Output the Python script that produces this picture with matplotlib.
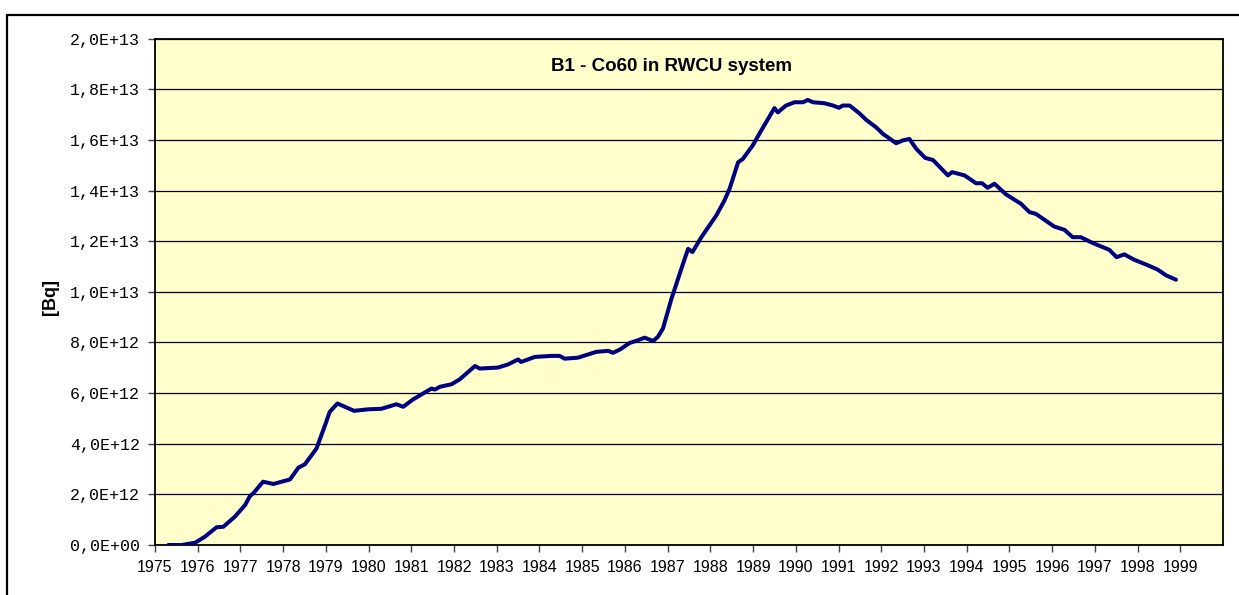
import matplotlib
matplotlib.use("Agg")
import matplotlib.pyplot as plt
from matplotlib.patches import Rectangle
from matplotlib.ticker import FuncFormatter

# Co60 activity: decimal year, activity in 1E+12 Bq
years = [
    1975.31, 1975.62, 1975.94, 1976.17, 1976.44, 1976.60, 1976.87, 1977.11,
    1977.22, 1977.30, 1977.53, 1977.77, 1978.16, 1978.36, 1978.51, 1978.78,
    1978.98, 1979.09, 1979.27, 1979.66, 1979.99, 1980.30, 1980.65, 1980.81,
    1981.04, 1981.47, 1981.55, 1981.67, 1981.94, 1982.13, 1982.49, 1982.60,
    1983.03, 1983.26, 1983.50, 1983.57, 1983.89, 1984.28, 1984.47, 1984.59,
    1984.90, 1985.33, 1985.61, 1985.72, 1985.88, 1986.11, 1986.31, 1986.46,
    1986.66, 1986.77, 1986.89, 1987.09, 1987.36, 1987.48, 1987.58, 1987.79,
    1988.14, 1988.33, 1988.45, 1988.65, 1988.76, 1988.99, 1989.19, 1989.35,
    1989.50, 1989.58, 1989.77, 1989.97, 1990.17, 1990.28, 1990.40, 1990.67,
    1990.87, 1991.01, 1991.10, 1991.26, 1991.49, 1991.65, 1991.88, 1992.04,
    1992.35, 1992.50, 1992.66, 1992.82, 1993.03, 1993.21, 1993.36, 1993.56,
    1993.66, 1993.95, 1994.22, 1994.36, 1994.49, 1994.65, 1994.92, 1995.27,
    1995.47, 1995.62, 1996.05, 1996.29, 1996.48, 1996.67, 1996.95, 1997.34,
    1997.51, 1997.69, 1997.92, 1998.24, 1998.47, 1998.67, 1998.90,
]
activity = [
    0.00, 0.00, 0.09, 0.33, 0.70, 0.72, 1.12, 1.58,
    1.93, 2.04, 2.50, 2.41, 2.59, 3.06, 3.19, 3.81,
    4.73, 5.26, 5.59, 5.30, 5.36, 5.38, 5.56, 5.46,
    5.75, 6.18, 6.14, 6.25, 6.35, 6.54, 7.07, 6.97,
    7.01, 7.13, 7.33, 7.23, 7.43, 7.47, 7.47, 7.36,
    7.40, 7.63, 7.67, 7.59, 7.72, 7.98, 8.09, 8.19,
    8.06, 8.22, 8.55, 9.73, 11.11, 11.70, 11.57, 12.16,
    13.02, 13.61, 14.07, 15.12, 15.25, 15.78, 16.37, 16.83,
    17.26, 17.09, 17.36, 17.49, 17.49, 17.58, 17.49, 17.45,
    17.36, 17.27, 17.36, 17.36, 17.05, 16.79, 16.50, 16.24,
    15.87, 15.98, 16.04, 15.65, 15.29, 15.21, 14.95, 14.60,
    14.73, 14.60, 14.29, 14.29, 14.11, 14.27, 13.85, 13.48,
    13.15, 13.08, 12.58, 12.45, 12.16, 12.16, 11.93, 11.66,
    11.37, 11.48, 11.27, 11.05, 10.88, 10.65, 10.48,
]
year_ticks = list(range(1975, 2000))
bq_ticks = [i * 2e12 for i in range(11)]

fig = plt.figure(figsize=(12.39, 5.95), dpi=100)
fig.patch.set_facecolor("white")
ax = fig.add_axes([155 / 1239, 50 / 595, 1068 / 1239, 506.3 / 595])
ax.set_facecolor("#FFFFCC")

# outer chart frame (runs off the right and bottom edge)
fig.patches.append(Rectangle((7 / 1239, -0.05), 1.2, (595 - 15) / 595 + 0.05,
                             transform=fig.transFigure, fill=False,
                             edgecolor="black", linewidth=1.6, zorder=0))

ax.plot(years, [a * 1e12 for a in activity],
        color="#000080", linewidth=2.9, solid_joinstyle="round",
        solid_capstyle="round", zorder=3)

ax.set_xlim(1975, 2000)
ax.set_ylim(0, 2e13)
ax.set_xticks(year_ticks)
ax.set_xticklabels([str(y) for y in year_ticks], family="Liberation Sans",
                   fontsize=11.5)
ax.set_yticks(bq_ticks)
ax.yaxis.set_major_formatter(FuncFormatter(
    lambda v, p: ("%.1E" % v).replace(".", ",")))
for lab in ax.get_yticklabels():
    lab.set_family("Liberation Mono")
    lab.set_fontsize(12)

ax.tick_params(axis="both", direction="out", length=5, width=1,
               color="#404040")
ax.tick_params(axis="y", pad=6)
ax.tick_params(axis="x", pad=6)
ax.grid(axis="y", color="black", linewidth=0.9, zorder=1)
ax.set_axisbelow(True)
for s in ax.spines.values():
    s.set_linewidth(1.3)
    s.set_color("black")

ax.text(0.484, 0.946, "B1 - Co60 in RWCU system", transform=ax.transAxes,
        ha="center", va="center", family="Liberation Sans",
        fontweight="bold", fontsize=13.5)
fig.text(50 / 1239, 1 - 297 / 595, "[Bq]", rotation=90, ha="center",
         va="center", family="Liberation Sans", fontweight="bold",
         fontsize=13)

fig.savefig("out.png", dpi=100)
